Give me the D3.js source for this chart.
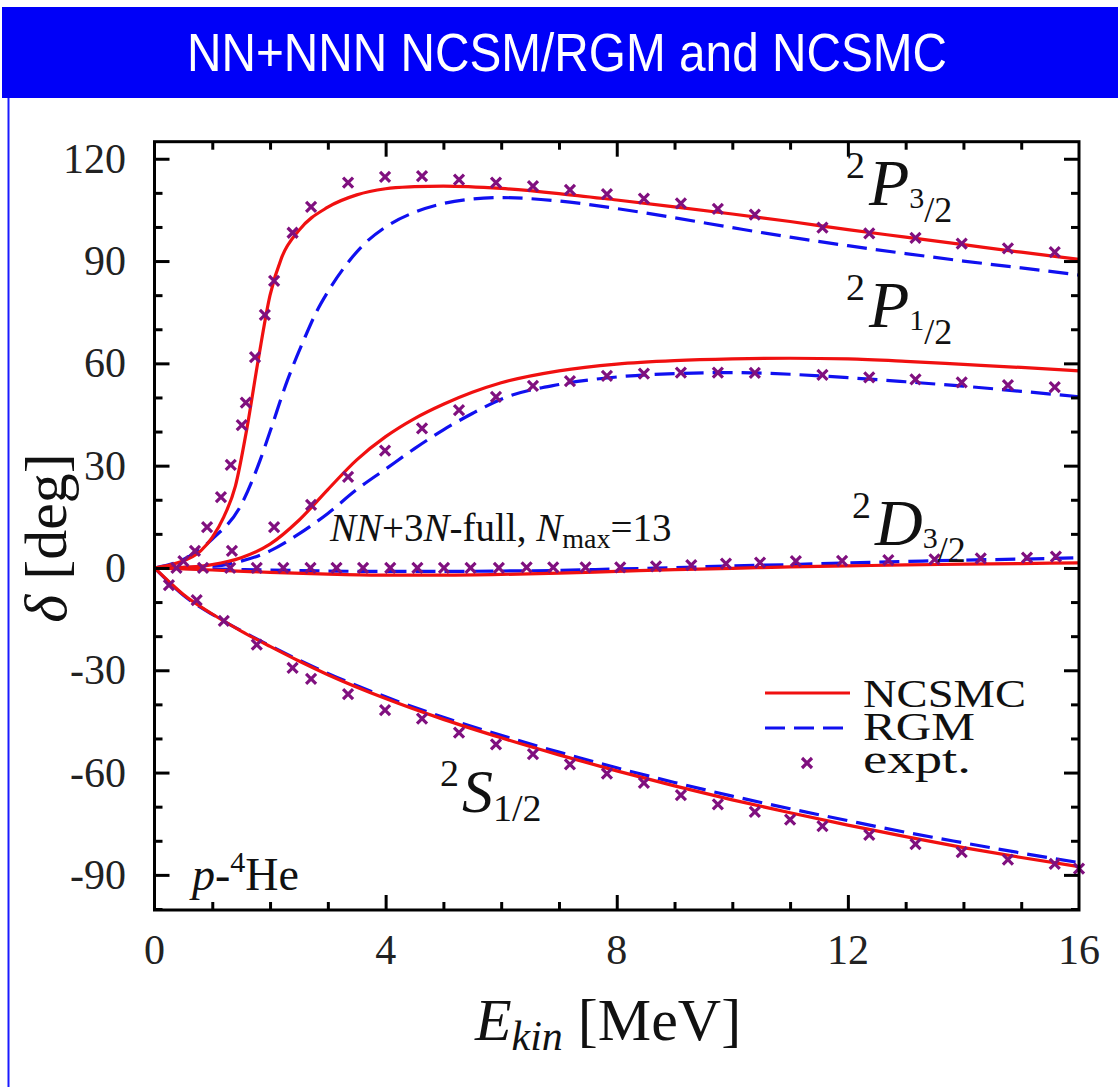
<!DOCTYPE html>
<html>
<head>
<meta charset="utf-8">
<script src="https://cdn.jsdelivr.net/npm/d3@7"></script>
<style>
  html, body { margin: 0; padding: 0; background: #fff; }
  svg { display: block; }
</style>
</head>
<body>
<svg id="chart" width="1118" height="1087"></svg>
<script>
// p-4He phase shifts, NN+3N interaction, Nmax = 13
const xTicks = [0, 4, 8, 12, 16];
const yTicks = [-90, -60, -30, 0, 30, 60, 90, 120];

// NCSMC (solid) curves
const p32NcsmcE = [0, 0.4, 0.8, 1.0, 1.2, 1.4, 1.6, 1.8, 2.0, 2.2, 2.5, 3.0, 3.5, 4, 4.5, 5, 6, 7, 8, 9, 10, 11, 12, 13, 14, 15, 16];
const p32NcsmcD = [0, 1.5, 5, 9, 15, 24, 41, 61.5, 80, 91, 99, 105.8, 109.4, 111.2, 111.8, 112, 111.3, 109.8, 107.9, 105.9, 103.8, 101.6, 99.2, 97.0, 94.8, 92.6, 90.5];
const p12NcsmcE = [0, 0.5, 1, 1.5, 2, 2.5, 3, 3.5, 4, 4.5, 5, 5.5, 6, 7, 8, 9, 10, 11, 12, 13, 14, 15, 16];
const p12NcsmcD = [0, 0.2, 1, 3, 7, 14, 23, 31.7, 38.5, 43.8, 48, 51.5, 54.3, 57.8, 59.8, 60.8, 61.3, 61.5, 61.3, 60.6, 59.7, 58.8, 57.8];
const d32NcsmcE = [0, 1, 2, 3, 4, 5, 6, 7, 8, 9, 10, 11, 12, 13, 14, 15, 16];
const d32NcsmcD = [0, -0.6, -1.3, -1.8, -2.1, -2.1, -1.9, -1.5, -1.0, -0.5, -0.1, 0.3, 0.6, 0.9, 1.1, 1.3, 1.5];
const s12NcsmcE = [0, 0.25, 0.5, 1, 1.5, 2, 2.5, 3, 4, 5, 6, 7, 8, 9, 10, 11, 12, 13, 14, 15, 16];
const s12NcsmcD = [0, -4, -7.8, -13.5, -18.5, -23, -27.3, -31.3, -38.3, -44.4, -49.8, -54.8, -59.5, -63.9, -68, -71.8, -75.4, -78.8, -82, -84.9, -87.6];

// RGM (dashed) curves
const p32RgmE = [0, 0.5, 1.0, 1.5, 1.83, 2.0, 2.3, 2.6, 2.8, 3.0, 3.3, 3.6, 4.0, 4.5, 5.0, 5.5, 6, 7, 8, 9, 10, 11, 12, 13, 14, 15, 16];
const p32RgmD = [0, 2.5, 8.5, 18.5, 31.7, 40, 55, 67.5, 75, 81, 88.5, 94.5, 100, 104.3, 106.9, 108.2, 108.6, 107.6, 105.4, 102.7, 99.8, 97, 94.5, 92.2, 90, 88, 85.9];
const p12RgmE = [0, 1, 1.5, 2, 2.5, 3, 3.5, 4, 4.5, 5, 5.5, 6, 7, 8, 9, 10, 11, 12, 13, 14, 15, 16];
const p12RgmD = [0, 0.5, 2, 5, 10, 16, 23, 29, 35, 40.5, 45.3, 49.5, 53.8, 56, 57, 57.3, 56.8, 55.8, 54.6, 53.3, 51.8, 50.2];
const d32RgmE = [0, 1, 2, 3, 4, 5, 6, 7, 8, 9, 10, 11, 12, 13, 14, 15, 16];
const d32RgmD = [0, -0.3, -0.6, -0.9, -1.0, -1.0, -0.9, -0.7, -0.3, 0.1, 0.6, 1.0, 1.5, 1.9, 2.3, 2.6, 3.0];
const s12RgmE = [0, 0.25, 0.5, 1, 1.5, 2, 2.5, 3, 4, 5, 6, 7, 8, 9, 10, 11, 12, 13, 14, 15, 16];
const s12RgmD = [0, -4.2, -8, -13.6, -18.4, -22.8, -27, -30.9, -37.8, -43.8, -49.1, -54, -58.6, -62.9, -66.9, -70.6, -74.1, -77.5, -80.6, -83.6, -86.4];

// Phase-shift analysis points
const p32ExpE = [0.5, 0.7, 0.91, 1.15, 1.32, 1.51, 1.58, 1.74, 1.91, 2.07, 2.39, 2.71, 3.35, 3.99, 4.63, 5.27, 5.91, 6.55, 7.19, 7.83, 8.47, 9.11, 9.75, 10.39, 11.56, 12.37, 13.17, 13.97, 14.77, 15.58];
const p32ExpD = [2, 5, 12, 20.8, 30.2, 41.9, 48.5, 61.8, 74.2, 84.2, 98.3, 105.9, 113, 114.7, 114.9, 113.9, 113, 112, 110.9, 109.6, 108.3, 106.9, 105.3, 103.6, 99.8, 98.1, 96.8, 95.1, 93.7, 92.6];
const p12ExpE = [1.34, 2.07, 2.71, 3.35, 3.99, 4.63, 5.27, 5.91, 6.55, 7.19, 7.83, 8.47, 9.11, 9.75, 10.39, 11.56, 12.37, 13.17, 13.97, 14.77, 15.58];
const p12ExpD = [5, 12, 18.5, 26.7, 34.4, 40.9, 46.3, 50.2, 53.4, 54.8, 56.3, 57, 57.3, 57.3, 57.2, 56.6, 55.9, 55.3, 54.4, 53.6, 53.0];
const d32ExpE = [0.38, 0.84, 1.31, 1.77, 2.23, 2.70, 3.15, 3.61, 4.08, 4.55, 5.01, 5.47, 5.96, 6.44, 6.90, 7.46, 8.06, 8.68, 9.29, 9.89, 10.48, 11.10, 11.9, 12.7, 13.5, 14.3, 15.1, 15.6];
const d32ExpD = [0, 0, 0, 0, 0, 0, 0, 0, 0, 0, 0, 0, 0, 0.2, 0.2, 0.2, 0.2, 0.5, 0.8, 1.3, 1.6, 2.0, 2.1, 2.3, 2.5, 2.8, 3.0, 3.3];
const s12ExpE = [0.25, 0.73, 1.2, 1.77, 2.39, 2.71, 3.35, 3.99, 4.63, 5.27, 5.91, 6.55, 7.19, 7.83, 8.47, 9.11, 9.75, 10.39, 11.0, 11.56, 12.37, 13.17, 13.97, 14.77, 15.58, 16.0];
const s12ExpD = [-5, -9.4, -15.5, -22.5, -29.3, -32.5, -37, -41.7, -44.2, -48.3, -51.7, -54.6, -57.6, -60.3, -63, -66.6, -69.3, -71.5, -73.8, -75.7, -78.3, -81, -83.3, -85.5, -86.8, -88.2];

const legendNames = ["NCSMC", "RGM", "expt."];

const svg = d3.select("#chart");
const W = 1118, H = 1087;
svg.append("rect").attr("width", W).attr("height", H).attr("fill", "#fff");

// Header band
svg.append("rect").attr("x", 2).attr("y", 7).attr("width", W - 2).attr("height", 91).attr("fill", "#0000f8");
svg.append("text")
  .attr("x", 567).attr("y", 71)
  .attr("text-anchor", "middle")
  .attr("font-family", "Liberation Sans Narrow, Liberation Sans, Arial, sans-serif")
  .attr("font-size", 53)
  .attr("fill", "#fff")
  .attr("textLength", 760).attr("lengthAdjust", "spacingAndGlyphs")
  .text("NN+NNN NCSM/RGM and NCSMC");
svg.append("line").attr("x1", 8.5).attr("x2", 8.5).attr("y1", 98).attr("y2", H)
  .attr("stroke", "#1a1aff").attr("stroke-width", 2);

// Scales
const x = d3.scaleLinear().domain([0, 16]).range([154.5, 1079]);
const y = d3.scaleLinear().domain([-100.3, 125]).range([910, 141.7]);

const serif = "Liberation Serif, Times New Roman, serif";
const plot = svg.append("g");

// Curves
const line = d3.line().x(d => x(d[0])).y(d => y(d[1])).curve(d3.curveMonotoneX);
const zip = (a, b) => a.map((v, i) => [v, b[i]]);
const RED = "#f01010", BLUE = "#1010f0", PURPLE = "#80107f";

[[p32RgmE, p32RgmD], [p12RgmE, p12RgmD], [d32RgmE, d32RgmD], [s12RgmE, s12RgmD]].forEach(([e, d]) => {
  plot.append("path").attr("d", line(zip(e, d))).attr("fill", "none")
    .attr("stroke", BLUE).attr("stroke-width", 3.2).attr("stroke-dasharray", "20,9");
});
[[p32NcsmcE, p32NcsmcD], [p12NcsmcE, p12NcsmcD], [d32NcsmcE, d32NcsmcD], [s12NcsmcE, s12NcsmcD]].forEach(([e, d]) => {
  plot.append("path").attr("d", line(zip(e, d))).attr("fill", "none")
    .attr("stroke", RED).attr("stroke-width", 3.2);
});

// Cross markers
const cross = (g, cx, cy, r) => {
  g.append("path")
    .attr("d", `M${cx - r},${cy - r}L${cx + r},${cy + r}M${cx - r},${cy + r}L${cx + r},${cy - r}`)
    .attr("stroke", PURPLE).attr("stroke-width", 3.2).attr("fill", "none");
};
[[p32ExpE, p32ExpD], [p12ExpE, p12ExpD], [d32ExpE, d32ExpD], [s12ExpE, s12ExpD]].forEach(([e, d]) => {
  e.forEach((v, i) => cross(plot, x(v), y(d[i]), 5));
});

// Frame and ticks
const frame = svg.append("g");
frame.append("rect").attr("x", x(0)).attr("y", y(125)).attr("width", x(16) - x(0)).attr("height", y(-100.3) - y(125))
  .attr("fill", "none").attr("stroke", "#000").attr("stroke-width", 3);

const yMinor = d3.range(-100, 126, 10).filter(v => !yTicks.includes(v));
const xMinor = d3.range(0, 17, 1).filter(v => !xTicks.includes(v));

function ticks(axisGen, scale, vals, size, transform) {
  const g = frame.append("g").attr("transform", transform)
    .call(axisGen(scale).tickValues(vals).tickSize(size).tickFormat(""));
  g.select(".domain").remove();
  g.selectAll("line").attr("stroke", "#000").attr("stroke-width", 3);
  return g;
}
ticks(d3.axisLeft, y, yTicks, -15, `translate(${x(0)},0)`);
ticks(d3.axisLeft, y, yMinor, -8, `translate(${x(0)},0)`);
ticks(d3.axisRight, y, yTicks, -15, `translate(${x(16)},0)`);
ticks(d3.axisRight, y, yMinor, -8, `translate(${x(16)},0)`);
ticks(d3.axisBottom, x, xTicks.slice(1, -1), -15, `translate(0,${y(-100.3)})`);
ticks(d3.axisBottom, x, xMinor, -8, `translate(0,${y(-100.3)})`);
ticks(d3.axisTop, x, xTicks.slice(1, -1), -15, `translate(0,${y(125)})`);
ticks(d3.axisTop, x, xMinor, -8, `translate(0,${y(125)})`);

// Tick labels
const labels = svg.append("g").attr("font-family", serif).attr("font-size", 42).attr("fill", "#222");
yTicks.forEach(v => {
  labels.append("text").attr("x", 126).attr("y", y(v) + 14).attr("text-anchor", "end").text(v);
});
xTicks.forEach(v => {
  labels.append("text").attr("x", x(v)).attr("y", 964).attr("text-anchor", "middle").text(v);
});

// Axis titles
const xt = svg.append("text").attr("x", 608).attr("y", 1040).attr("text-anchor", "middle")
  .attr("font-family", serif).attr("font-size", 60).attr("fill", "#111");
xt.append("tspan").attr("font-style", "italic").text("E");
xt.append("tspan").attr("font-style", "italic").attr("font-size", 42).attr("dy", 10).text("kin");
xt.append("tspan").attr("dy", -10).text(" [MeV]");

const yt = svg.append("text").attr("transform", "translate(66,538) rotate(-90)").attr("text-anchor", "middle")
  .attr("font-family", serif).attr("font-size", 60).attr("fill", "#111");
yt.append("tspan").attr("font-style", "italic").text("δ");
yt.append("tspan").text(" [deg]");

// Partial-wave labels
function waveLabel(px, py, L, j) {
  const t = svg.append("text").attr("x", px).attr("y", py).attr("font-family", serif).attr("fill", "#111").attr("font-size", 66);
  t.append("tspan").attr("font-size", 38).attr("dy", -27).text("2");
  t.append("tspan").attr("font-style", "italic").attr("dy", 27).attr("dx", 4).text(L);
  t.append("tspan").attr("font-size", 30).attr("dy", 3).text(j);
  t.append("tspan").attr("font-size", 36).attr("dy", 14).text("/2");
}
waveLabel(846, 205, "P", "3");
waveLabel(846, 327, "P", "1");
waveLabel(852, 545, "D", "3");

const s = svg.append("text").attr("x", 440).attr("y", 812).attr("font-family", serif).attr("fill", "#111").attr("font-size", 62);
s.append("tspan").attr("font-size", 38).attr("dy", -26).text("2");
s.append("tspan").attr("font-style", "italic").attr("dy", 26).attr("dx", 3).text("S");
s.append("tspan").attr("font-size", 38).attr("dy", 9).text("1/2");

// Model annotation
const ann = svg.append("text").attr("x", 330).attr("y", 541).attr("font-family", serif).attr("fill", "#111").attr("font-size", 39);
ann.append("tspan").attr("font-style", "italic").text("NN");
ann.append("tspan").text("+3");
ann.append("tspan").attr("font-style", "italic").text("N");
ann.append("tspan").text("-full, ");
ann.append("tspan").attr("font-style", "italic").text("N");
ann.append("tspan").attr("font-size", 28).attr("dy", 7).text("max");
ann.append("tspan").attr("dy", -7).text("=13");

const ph = svg.append("text").attr("x", 192).attr("y", 890).attr("font-family", serif).attr("fill", "#111").attr("font-size", 46);
ph.append("tspan").attr("font-style", "italic").text("p");
ph.append("tspan").text("-");
ph.append("tspan").attr("font-size", 30).attr("dy", -18).text("4");
ph.append("tspan").attr("dy", 18).text("He");

// Legend
const lg = svg.append("g");
lg.append("line").attr("x1", 765).attr("x2", 850).attr("y1", 693).attr("y2", 693).attr("stroke", RED).attr("stroke-width", 3.2);
lg.append("line").attr("x1", 765).attr("x2", 850).attr("y1", 728).attr("y2", 728).attr("stroke", BLUE).attr("stroke-width", 3.2).attr("stroke-dasharray", "20,9");
cross(lg, 807, 763, 5);
const legendWidths = [163, 112, 108];
legendNames.forEach((n, i) => {
  lg.append("text").attr("x", 863).attr("y", 707 + i * 33).attr("font-family", serif).attr("font-size", 40).attr("fill", "#111")
    .attr("textLength", legendWidths[i]).attr("lengthAdjust", "spacingAndGlyphs").text(n);
});
</script>
</body>
</html>
